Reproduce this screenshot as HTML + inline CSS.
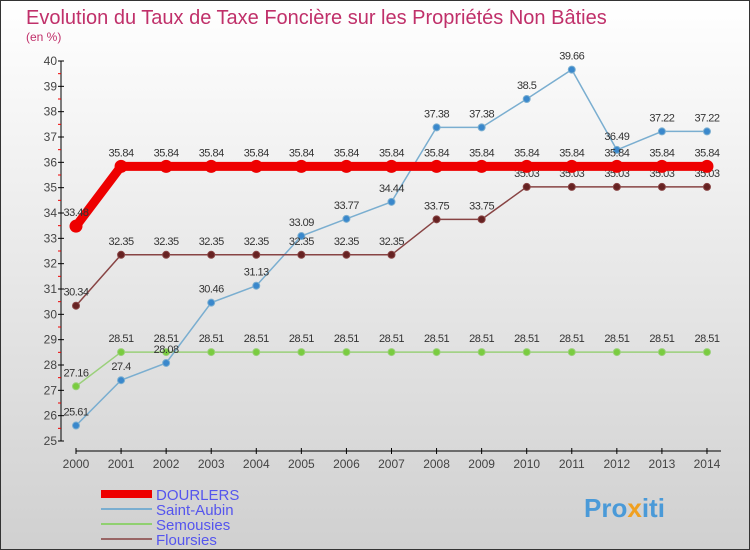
<!DOCTYPE html>
<html><head><meta charset="utf-8"><style>
body{margin:0}
#c{width:750px;height:550px;position:relative;font-family:"Liberation Sans",sans-serif;background:linear-gradient(#ffffff,#d0d0d0);box-sizing:border-box;border:1px solid #333;overflow:hidden}
text{font-family:"Liberation Sans",sans-serif}
</style></head><body>
<div id="c">
<svg id="s" width="750" height="550">
<text x="25" y="23" font-size="20" fill="#c0306a">Evolution du Taux de Taxe Foncière sur les Propriétés Non Bâties</text>
<text x="25" y="40" font-size="12" fill="#c0306a">(en %)</text>
<g id="ax"></g><g id="ser"></g>
<g>
<rect x="100" y="489" width="51" height="8" fill="#e00"/>
<text x="155" y="499" font-size="15" fill="#5555ee">DOURLERS</text>
<rect x="100" y="507" width="51" height="2" fill="#7aaed0"/>
<text x="155" y="514" font-size="15" fill="#5555ee">Saint-Aubin</text>
<rect x="100" y="522" width="51" height="2" fill="#90d070"/>
<text x="155" y="529" font-size="15" fill="#5555ee">Semousies</text>
<rect x="100" y="537" width="51" height="2" fill="#996666"/>
<text x="155" y="544" font-size="15" fill="#5555ee">Floursies</text>
</g>
<text x="583" y="516" font-size="26" font-weight="bold" fill="#4a9ad8">Pro<tspan fill="#f0a020">x</tspan>iti</text>
</svg></div>
<script>
const years=[2000,2001,2002,2003,2004,2005,2006,2007,2008,2009,2010,2011,2012,2013,2014];
const yTicks=[25,26,27,28,29,30,31,32,33,34,35,36,37,38,39,40];
const dourlers=[33.48,35.84,35.84,35.84,35.84,35.84,35.84,35.84,35.84,35.84,35.84,35.84,35.84,35.84,35.84];
const saintAubin=[25.61,27.4,28.08,30.46,31.13,33.09,33.77,34.44,37.38,37.38,38.5,39.66,36.49,37.22,37.22];
const semousies=[27.16,28.51,28.51,28.51,28.51,28.51,28.51,28.51,28.51,28.51,28.51,28.51,28.51,28.51,28.51];
const floursies=[30.34,32.35,32.35,32.35,32.35,32.35,32.35,32.35,33.75,33.75,35.03,35.03,35.03,35.03,35.03];
const NS="http://www.w3.org/2000/svg";
const X=i=>75+i*45.07, Y=v=>440-(v-25)*25.333;
function mk(t,a,p){const e=document.createElementNS(NS,t);for(const k in a)e.setAttribute(k,a[k]);p.appendChild(e);return e;}
const ax=document.getElementById('ax'),ser=document.getElementById('ser');
let l=mk('line',{x1:60,y1:60,x2:60,y2:440,stroke:'#000'},ax);


l=mk('line',{x1:75,y1:450,x2:720,y2:450,stroke:'#000'},ax);


yTicks.forEach(v=>{
 mk('line',{x1:57,x2:63,y1:Y(v),y2:Y(v),stroke:'#000'},ax);
 if(v<40)mk('line',{x1:57,x2:60,y1:Y(v+0.5),y2:Y(v+0.5),stroke:'#e00'},ax);
 const t=mk('text',{x:56,y:Y(v)+4,'font-size':12,fill:'#444','text-anchor':'end'},ax);t.textContent=v;
 
 
});
years.forEach((y,i)=>{
 mk('line',{x1:X(i),x2:X(i),y1:447,y2:453,stroke:'#000'},ax);
 const t=mk('text',{x:X(i),y:467,'font-size':12,fill:'#444','text-anchor':'middle'},ax);t.textContent=y;
 
 
});
function series(d,name,col,dot,w,r){
 const g=mk('g',{},ser);
 
 
 mk('polyline',{points:d.map((v,i)=>X(i)+','+Y(v)).join(' '),fill:'none',stroke:col,'stroke-width':w},g);
 d.forEach((v,i)=>{
  const c=mk('circle',{cx:X(i),cy:Y(v),r:r,fill:dot,stroke:col,'stroke-width':1},g);
  
  
  const t=mk('text',{x:X(i),y:Y(v)-10,'font-size':11,fill:'#333','text-anchor':'middle','letter-spacing':'-0.5'},g);
  t.textContent=v;
  
  
 });
}
series(semousies,'semousies','#9ad07a','#7acc40',1.5,3.5);
series(saintAubin,'saint-aubin','#7aaed0','#3a88cc',1.5,3.5);
series(floursies,'floursies','#884444','#662222',1.5,3.5);
series(dourlers,'dourlers','#ee0000','#ee0000',9,6);
</script>
</body></html>
